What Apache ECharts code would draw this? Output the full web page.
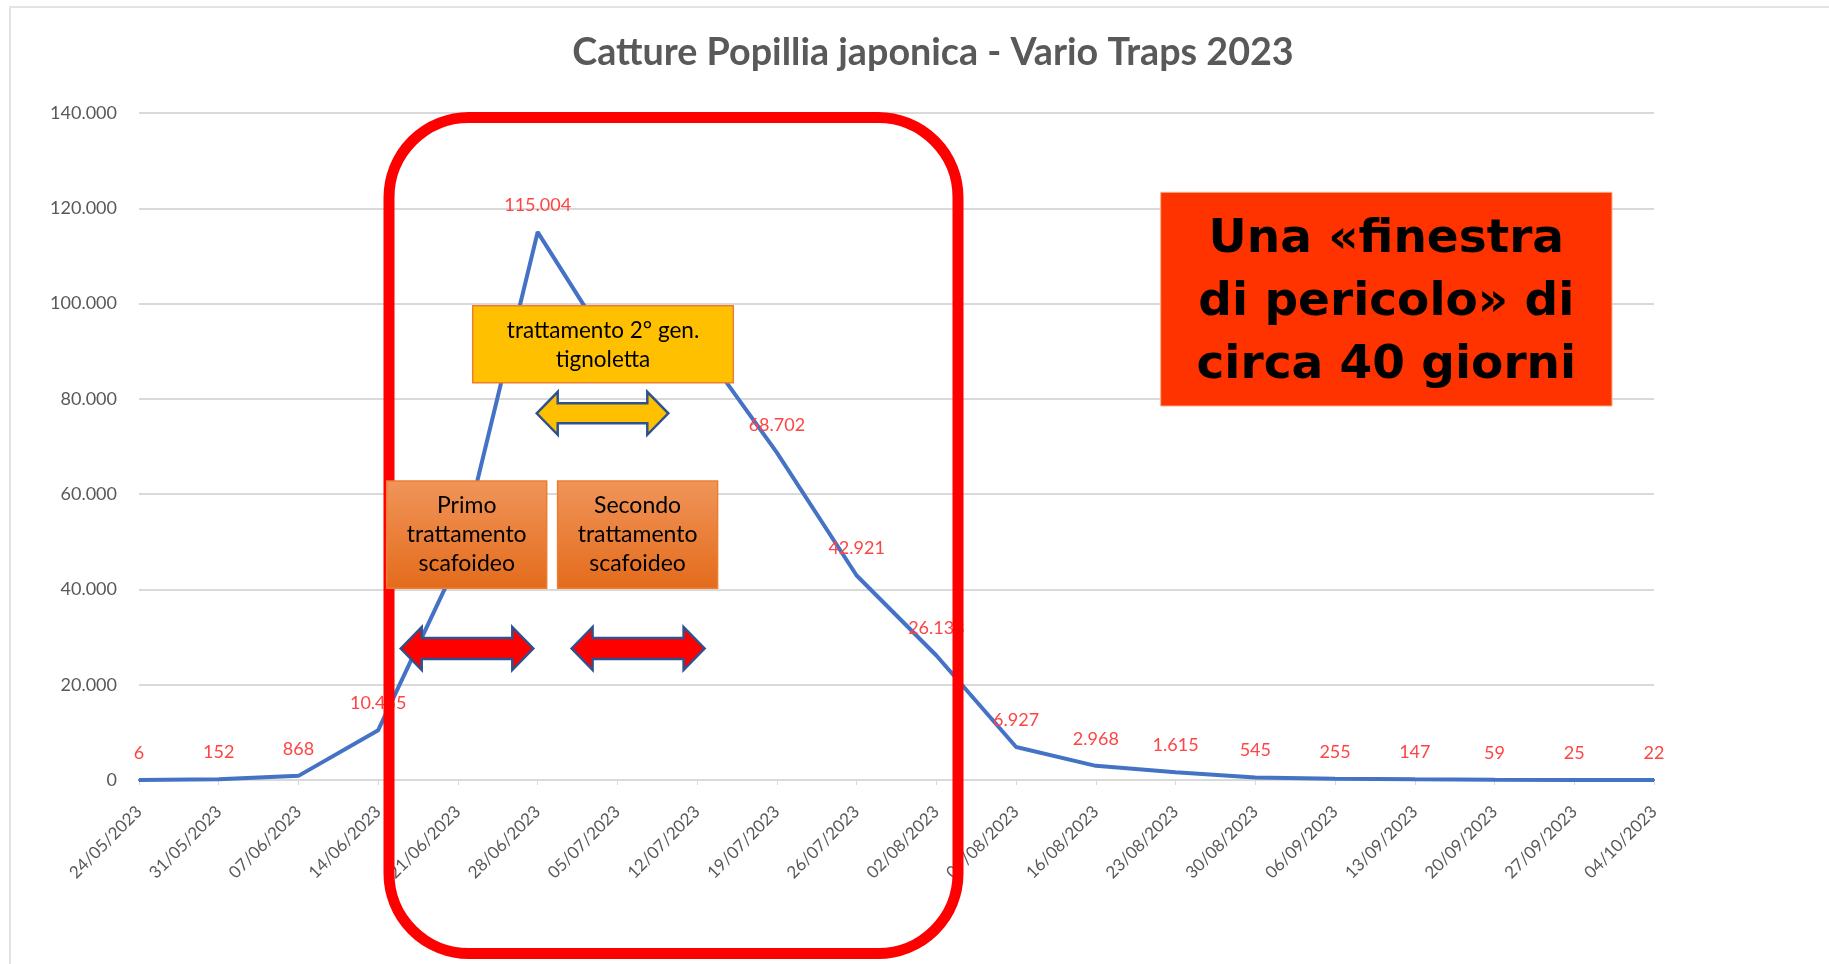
<!DOCTYPE html>
<html>
<head>
<meta charset="utf-8">
<script src="https://cdn.jsdelivr.net/npm/echarts@6/dist/echarts.min.js"></script>
<style>
html,body{margin:0;padding:0;background:#fff;}
#chart{width:1829px;height:964px;}
</style>
</head>
<body>
<div id="chart"></div>
<script>
const categories = ['24/05/2023','31/05/2023','07/06/2023','14/06/2023','21/06/2023','28/06/2023','05/07/2023','12/07/2023','19/07/2023','26/07/2023','02/08/2023','09/08/2023','16/08/2023','23/08/2023','30/08/2023','06/09/2023','13/09/2023','20/09/2023','27/09/2023','04/10/2023'];
const catture = [6,152,868,10455,46000,115004,88500,92000,68702,42921,26133,6927,2968,1615,545,255,147,59,25,22];
const yMin = 0, yMax = 140000, yStep = 20000;
const titleText = 'Catture Popillia japonica - Vario Traps 2023';

function fmt(n){ return String(n).replace(/\B(?=(\d{3})+(?!\d))/g,'.'); }

function dblArrow(x1, x2, cy, headLen, headH, shaftH){
  return [
    [x1, cy], [x1+headLen, cy-headH/2], [x1+headLen, cy-shaftH/2],
    [x2-headLen, cy-shaftH/2], [x2-headLen, cy-headH/2], [x2, cy],
    [x2-headLen, cy+headH/2], [x2-headLen, cy+shaftH/2],
    [x1+headLen, cy+shaftH/2], [x1+headLen, cy+headH/2]
  ];
}

const chart = echarts.init(document.getElementById('chart'), null, {renderer:'canvas'});
const orangeGrad = new echarts.graphic.LinearGradient(0,0,0,1,[{offset:0,color:'#F0955A'},{offset:1,color:'#E46B1B'}]);

chart.setOption({
  backgroundColor:'#ffffff',
  animation:false,
  title:{
    text:titleText, left:928, textAlign:'center', top:29,
    textStyle:{fontFamily:'Lato', fontWeight:'bold', fontSize:37.7, color:'#595959'}
  },
  grid:{left:139, right:175, top:113, bottom:184},
  xAxis:{
    type:'category', data:categories, boundaryGap:false,
    axisLine:{lineStyle:{color:'#d9d9d9', width:2}},
    axisTick:{show:true, length:5, lineStyle:{color:'#d9d9d9'}},
    axisLabel:{rotate:45, margin:29, color:'#595959', fontFamily:'Lato', fontSize:17, interval:0}
  },
  yAxis:{
    type:'value', min:yMin, max:yMax, interval:yStep,
    axisLine:{show:false}, axisTick:{show:false},
    splitLine:{lineStyle:{color:'#d9d9d9', width:2}},
    axisLabel:{margin:22, color:'#595959', fontFamily:'Lato', fontSize:18, formatter:v=>fmt(v)}
  },
  series:[{
    type:'line', data:catture, z:2,
    symbol:'circle', symbolSize:2, showSymbol:true, showAllSymbol:true,
    itemStyle:{color:'#4472C4'},
    lineStyle:{color:'#4472C4', width:4},
    label:{show:true, position:'top', distance:17, color:'#ff4444', fontFamily:'Lato', fontSize:18, formatter:p=>fmt(p.value)}
  }],
  graphic:[
    {type:'rect', z:50, silent:true, shape:{x:10, y:7, width:1830, height:970}, style:{fill:null, stroke:'#e3e3e3', lineWidth:2}},
    {type:'rect', z:100, silent:true, shape:{x:389, y:117.5, width:569, height:836, r:80}, style:{fill:null, stroke:'#FF0000', lineWidth:11}},
    {type:'rect', z:110, silent:true, shape:{x:472.7, y:305.7, width:260.6, height:77}, style:{fill:'#FFC000', stroke:'#ED7D31', lineWidth:1.5}},
    {type:'text', z:111, silent:true, style:{text:'trattamento 2° gen.\ntignoletta', x:603, y:345, align:'center', verticalAlign:'middle', fontFamily:'Lato', fontSize:22.5, lineHeight:29, fill:'#000'}},
    {type:'polygon', z:110, silent:true, shape:{points:dblArrow(536.7,668.3,413.3,21,43,20)}, style:{fill:'#FFC000', stroke:'#2F528F', lineWidth:2.5}},
    {type:'rect', z:110, silent:true, shape:{x:386.7, y:481, width:160, height:107.3}, style:{fill:orangeGrad, stroke:'#ED7D31', lineWidth:1.5}},
    {type:'text', z:111, silent:true, style:{text:'Primo\ntrattamento\nscafoideo', x:466.7, y:534.7, align:'center', verticalAlign:'middle', fontFamily:'Lato', fontSize:23, lineHeight:28.7, fill:'#000'}},
    {type:'rect', z:110, silent:true, shape:{x:557.6, y:481, width:160, height:107.3}, style:{fill:orangeGrad, stroke:'#ED7D31', lineWidth:1.5}},
    {type:'text', z:111, silent:true, style:{text:'Secondo\ntrattamento\nscafoideo', x:637.6, y:534.7, align:'center', verticalAlign:'middle', fontFamily:'Lato', fontSize:23, lineHeight:28.7, fill:'#000'}},
    {type:'polygon', z:110, silent:true, shape:{points:dblArrow(400.7,533.3,648.5,21,43,21)}, style:{fill:'#FF0000', stroke:'#2F528F', lineWidth:2.5}},
    {type:'polygon', z:110, silent:true, shape:{points:dblArrow(571.6,704.6,648.5,21,43,21)}, style:{fill:'#FF0000', stroke:'#2F528F', lineWidth:2.5}},
    {type:'rect', z:110, silent:true, shape:{x:1160.7, y:192.3, width:451.3, height:213.7}, style:{fill:'#FF3300', stroke:'#F4B183', lineWidth:1}},
    {type:'text', z:111, silent:true, style:{text:'Una «finestra\ndi pericolo» di\ncirca 40 giorni', x:1386.3, y:303, align:'center', verticalAlign:'middle', fontFamily:'DejaVu Sans', fontWeight:'bold', fontSize:47, lineHeight:63, fill:'#000'}}
  ]
});
</script>
</body>
</html>
